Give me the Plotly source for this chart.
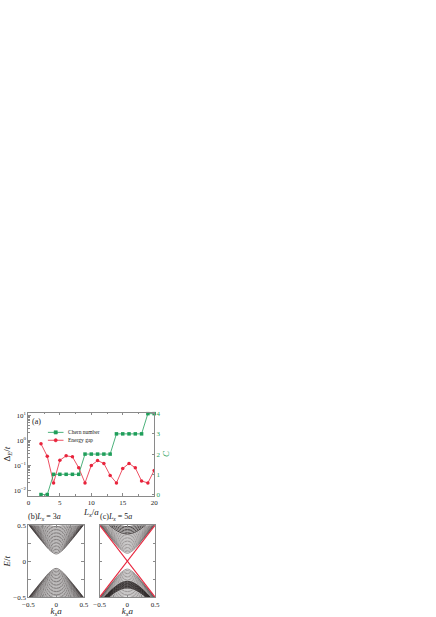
import plotly.graph_objects as go

# ---- panel (a): Chern number and energy gap vs L_x ----
lx = [2, 3, 4, 5, 6, 7, 8, 9, 10, 11, 12, 13, 14, 15, 16, 17, 18, 19, 20]
chern = [0, 0, 1, 1, 1, 1, 1, 2, 2, 2, 2, 2, 3, 3, 3, 3, 3, 4, 4]
gap = [0.72, 0.23, 0.02, 0.16, 0.24, 0.22, 0.08, 0.02, 0.10, 0.155, 0.12, 0.04,
       0.02, 0.075, 0.12, 0.08, 0.024, 0.02, 0.063]

# ---- panels (b), (c): subband table, E at |k_x a| = 0, 0.1, 0.25, 0.5 ----
k_pts = [-0.5, -0.25, -0.1, 0.0, 0.1, 0.25, 0.5]
sub_e0 = [0.10, 0.11, 0.12, 0.13, 0.14, 0.15, 0.16, 0.17, 0.18, 0.19, 0.20, 0.21,
          0.22, 0.23, 0.24, 0.25, 0.26, 0.27, 0.28, 0.29, 0.30, 0.31, 0.32, 0.33,
          0.34, 0.35, 0.36, 0.37, 0.38, 0.40, 0.42, 0.44, 0.46, 0.48]
sub_e10 = [0.141, 0.149, 0.156, 0.164, 0.172, 0.180, 0.189, 0.197, 0.206, 0.215,
           0.224, 0.233, 0.242, 0.251, 0.260, 0.269, 0.279, 0.288, 0.297, 0.307,
           0.316, 0.326, 0.335, 0.345, 0.354, 0.364, 0.374, 0.383, 0.393, 0.412,
           0.432, 0.451, 0.471, 0.490]
sub_e25 = [0.269, 0.273, 0.277, 0.282, 0.287, 0.292, 0.297, 0.302, 0.308, 0.314,
           0.320, 0.327, 0.333, 0.340, 0.347, 0.354, 0.361, 0.368, 0.375, 0.383,
           0.391, 0.398, 0.406, 0.414, 0.422, 0.430, 0.438, 0.447, 0.455, 0.472,
           0.489, 0.506, 0.524, 0.541]
sub_e50 = [0.510, 0.512, 0.514, 0.517, 0.519, 0.522, 0.525, 0.528, 0.531, 0.535,
           0.539, 0.542, 0.546, 0.550, 0.555, 0.559, 0.564, 0.568, 0.573, 0.578,
           0.583, 0.588, 0.594, 0.599, 0.605, 0.610, 0.616, 0.622, 0.628, 0.640,
           0.653, 0.666, 0.679, 0.693]

# band edges present in each panel
b_edges = [0.10, 0.12, 0.14, 0.16, 0.18, 0.20, 0.22, 0.24, 0.26, 0.28,
           0.30, 0.32, 0.34, 0.36, 0.38, 0.40, 0.42, 0.44, 0.46, 0.48]
c_up_light = [0.11, 0.13, 0.15, 0.17, 0.19, 0.21, 0.23, 0.25, 0.27, 0.29,
              0.31, 0.33, 0.35, 0.37]
c_up_dark = [0.38, 0.40, 0.42, 0.44, 0.46, 0.48]
c_lo_light = [0.11, 0.13, 0.15, 0.17, 0.19, 0.21, 0.23, 0.25, 0.27,
              0.38, 0.40, 0.42, 0.44, 0.46, 0.48]
c_lo_dark = [0.28, 0.29, 0.30, 0.31, 0.32, 0.33, 0.34, 0.35, 0.36, 0.37]

dirac_k = [-0.5, 0.5]
dirac_e = [-0.5, 0.5]

log_minor = [0.02, 0.03, 0.04, 0.05, 0.06, 0.07, 0.08, 0.09,
             0.2, 0.3, 0.4, 0.5, 0.6, 0.7, 0.8, 0.9,
             2, 3, 4, 5, 6, 7, 8, 9]

W, H = 436, 617
FONT = "Liberation Serif"
GREEN = "#1f9e5a"
RED = "#e8243c"
AX = "#8a8a8a"
INK = "#222"


def px(x):
    return x / W


def py(y):
    return 1 - y / H


def band_curve(e0, sign):
    i = sub_e0.index(e0)
    ys = [sub_e50[i], sub_e25[i], sub_e10[i], sub_e0[i],
          sub_e10[i], sub_e25[i], sub_e50[i]]
    return [sign * v for v in ys]


fig = go.Figure()

fig.add_trace(go.Scatter(
    x=lx, y=chern, name="Chern number", yaxis="y2", mode="lines+markers",
    line=dict(color=GREEN, width=0.8),
    marker=dict(symbol="square", size=3.5, color=GREEN),
    cliponaxis=False, showlegend=False
))
fig.add_trace(go.Scatter(
    x=lx, y=gap, name="Energy gap", mode="lines+markers",
    line=dict(color=RED, width=0.8),
    marker=dict(symbol="circle", size=3.5, color=RED), showlegend=False
))


def add_bands(edges, sign, xa, ya, color, width):
    for e in edges:
        fig.add_trace(go.Scatter(
            x=k_pts, y=band_curve(e, sign), mode="lines", xaxis=xa, yaxis=ya,
            line=dict(color=color, width=width, shape="spline"),
            showlegend=False, hoverinfo="skip"
        ))


add_bands(b_edges, 1, "x3", "y3", "#2e2626", 0.6)
add_bands(b_edges, -1, "x3", "y3", "#2e2626", 0.6)
add_bands(c_up_light, 1, "x4", "y4", "#4a4242", 0.55)
add_bands(c_up_dark, 1, "x4", "y4", "#1e1818", 0.8)
add_bands(c_lo_light, -1, "x4", "y4", "#4a4242", 0.55)
add_bands(c_lo_dark, -1, "x4", "y4", "#1e1818", 0.8)

fig.add_trace(go.Scatter(x=dirac_k, y=dirac_e, mode="lines", xaxis="x4", yaxis="y4",
                         line=dict(color=RED, width=1.1), showlegend=False))
fig.add_trace(go.Scatter(x=dirac_k, y=dirac_e[::-1], mode="lines", xaxis="x4", yaxis="y4",
                         line=dict(color=RED, width=1.1), showlegend=False))

tick_font = dict(family=FONT, size=7, color=INK)
title_font = dict(family=FONT, size=9, color=INK)
frame = dict(showline=True, linecolor=AX, linewidth=1, ticks="inside",
             tickcolor=AX, ticklen=2.5, showgrid=False, zeroline=False,
             tickfont=tick_font)
quarter_minor = dict(ticks="inside", ticklen=2.5, tickcolor=AX, dtick=0.25, tick0=0)

fig.update_layout(
    width=W, height=H, margin=dict(l=0, r=0, t=0, b=0),
    paper_bgcolor="white", plot_bgcolor="white",
    font=dict(family=FONT, color=INK),
    showlegend=False,
    xaxis=dict(domain=[px(23), px(152)], range=[0, 20], anchor="y",
               tickvals=[0, 5, 10, 15, 20], mirror="ticks",
               minor=dict(ticks="inside", ticklen=1.5, tickcolor=AX, dtick=2.5),
               title=dict(text="<i>L</i><sub><i>x</i></sub>/<i>a</i>",
                          font=title_font, standoff=1),
               **frame),
    yaxis=dict(domain=[py(498), py(414)], type="log", range=[-2.2, 1.1],
               tickvals=[0.01, 0.1, 1, 10],
               ticktext=["10<sup>−2</sup>", "10<sup>−1</sup>", "10<sup>0</sup>", "10<sup>1</sup>"],
               minor=dict(ticks="inside", ticklen=1.5, tickcolor=AX,
                          tickmode="array", tickvals=log_minor),
               title=dict(text="Δ<sub><i>E</i></sub>/<i>t</i>", font=title_font, standoff=1),
               **frame),
    yaxis2=dict(overlaying="y", side="right", range=[-0.05, 4.05],
                tickvals=[0, 1, 2, 3, 4], anchor="x",
                showline=True, linecolor=AX, linewidth=1, ticks="inside",
                tickcolor=AX, ticklen=2.5, showgrid=False, zeroline=False,
                tickfont=dict(family=FONT, size=7, color=GREEN),
                title=dict(text="<i>C</i>", font=dict(family=FONT, size=9, color=GREEN),
                           standoff=1)),
    xaxis3=dict(domain=[px(23), px(80)], range=[-0.5, 0.5], anchor="y3",
                tickvals=[-0.5, 0, 0.5], ticktext=["−0.5", "0", "0.5"],
                mirror="ticks", minor=quarter_minor,
                title=dict(text="<i>k</i><sub><i>x</i></sub><i>a</i>", font=title_font, standoff=1),
                **frame),
    yaxis3=dict(domain=[py(601), py(528)], range=[-0.5, 0.5], anchor="x3",
                tickvals=[-0.5, 0, 0.5], ticktext=["−0.5", "0", "0.5"],
                mirror="ticks", minor=quarter_minor,
                title=dict(text="<i>E</i>/<i>t</i>", font=title_font, standoff=1),
                **frame),
    xaxis4=dict(domain=[px(96), px(153)], range=[-0.5, 0.5], anchor="y4",
                tickvals=[-0.5, 0, 0.5], ticktext=["−0.5", "0", "0.5"],
                mirror="ticks", minor=quarter_minor,
                title=dict(text="<i>k</i><sub><i>x</i></sub><i>a</i>", font=title_font, standoff=1),
                **frame),
    yaxis4=dict(domain=[py(601), py(528)], range=[-0.5, 0.5], anchor="x4",
                tickvals=[-0.5, 0, 0.5], showticklabels=False,
                mirror="ticks", minor=quarter_minor, **frame),
)

# hand-drawn legend for panel (a) (plotly legend rows are too tall at this size)
legend_rows = [("Chern number", GREEN, "rect", 434), ("Energy gap", RED, "circle", 442)]
for label, col, sym, yy in legend_rows:
    fig.add_shape(type="line", xref="paper", yref="paper",
                  x0=px(43), x1=px(59), y0=py(yy), y1=py(yy),
                  line=dict(color=col, width=0.8))
    fig.add_shape(type=sym, xref="paper", yref="paper",
                  x0=px(49.3), x1=px(52.7), y0=py(yy + 1.7), y1=py(yy - 1.7),
                  line=dict(color=col, width=0.5), fillcolor=col)
    fig.add_annotation(text=label, x=px(62), y=py(yy), xref="paper", yref="paper",
                       xanchor="left", yanchor="middle", showarrow=False,
                       font=dict(family=FONT, size=5.5, color=INK))

fig.add_annotation(text="(a)", x=px(25), y=py(416), xref="paper", yref="paper",
                   xanchor="left", yanchor="top", showarrow=False,
                   font=dict(family=FONT, size=8, color=INK))
fig.add_annotation(text="(b)<i>L</i><sub><i>x</i></sub> = 3<i>a</i>", x=px(21), y=py(527),
                   xref="paper", yref="paper", xanchor="left", yanchor="bottom",
                   showarrow=False, font=dict(family=FONT, size=8, color=INK))
fig.add_annotation(text="(c)<i>L</i><sub><i>x</i></sub> = 5<i>a</i>", x=px(94), y=py(527),
                   xref="paper", yref="paper", xanchor="left", yanchor="bottom",
                   showarrow=False, font=dict(family=FONT, size=8, color=INK))

fig.write_html("out.html", config={"displayModeBar": False},
               post_script="document.body.style.margin='0';"
               "document.body.style.overflow='hidden';")
